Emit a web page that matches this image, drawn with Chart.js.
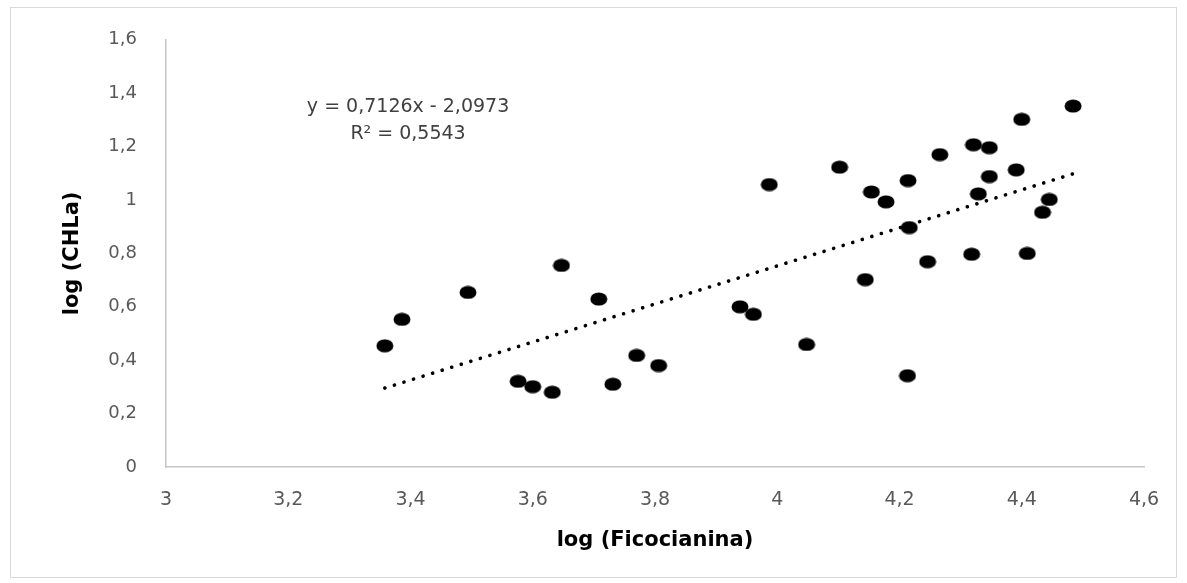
<!DOCTYPE html>
<html>
<head>
<meta charset="utf-8">
<script src="https://cdn.jsdelivr.net/npm/chart.js@4/dist/chart.umd.min.js"></script>
<style>
  html, body { margin: 0; padding: 0; background: #fff; }
  #wrap { position: absolute; left: 10px; top: 7px; width: 1167px; height: 571px; border: 1px solid #d9d9d9; box-sizing: border-box; }
  #box { position: absolute; left: 0; top: 0; width: 1187px; height: 583px; }
</style>
</head>
<body>
<div id="wrap"></div>
<div id="box"><canvas id="chart" width="1187" height="583"></canvas></div>
<script>
// log(Ficocianina) vs log(CHLa)
const xValues = [3.358, 3.386, 3.494, 3.647, 3.708, 3.576, 3.600, 3.632, 3.731, 3.770, 3.806, 3.939, 3.961,
  3.987, 4.102, 4.154, 4.178, 4.214, 4.216, 4.144, 4.048, 4.213, 4.246, 4.266, 4.321, 4.347, 4.347, 4.329,
  4.318, 4.391, 4.400, 4.484, 4.445, 4.434, 4.409];
const yValues = [0.454, 0.553, 0.654, 0.755, 0.629, 0.321, 0.301, 0.280, 0.310, 0.418, 0.380, 0.600, 0.572,
  1.058, 1.123, 1.030, 0.993, 1.073, 0.897, 0.702, 0.459, 0.342, 0.769, 1.170, 1.207, 1.196, 1.088, 1.023,
  0.797, 1.113, 1.302, 1.352, 1.002, 0.954, 0.800];
const slope = 0.7126;
const intercept = -2.0973;
const equationLines = ['y = 0,7126x - 2,0973', 'R\u00b2 = 0,5543'];
const xTitle = 'log (Ficocianina)';
const yTitle = 'log (CHLa)';

const points = xValues.map((x, i) => ({ x: x, y: yValues[i] }));
const xMin = Math.min(...xValues);
const xMax = Math.max(...xValues);
const trend = [xMin, xMax].map(x => ({ x: x, y: slope * x + intercept }));

// elliptical marker like the original
const dot = document.createElement('canvas');
dot.width = 18; dot.height = 14;
const dctx = dot.getContext('2d');
dctx.fillStyle = '#000';
dctx.beginPath();
dctx.ellipse(9, 7, 8.5, 6.6, 0, 0, Math.PI * 2);
dctx.fill();

const fmt = v => String(Math.round(v * 10) / 10).replace('.', ',');
const FONT = '"DejaVu Sans", sans-serif';

const equationPlugin = {
  id: 'equation',
  afterDatasetsDraw(chart) {
    const { ctx, scales } = chart;
    const cx = scales.x.getPixelForValue(3.396);
    ctx.save();
    ctx.fillStyle = '#404040';
    ctx.font = '19px ' + FONT;
    ctx.textAlign = 'center';
    ctx.textBaseline = 'middle';
    ctx.fillText(equationLines[0], cx, scales.y.getPixelForValue(1.347));
    ctx.fillText(equationLines[1], cx, scales.y.getPixelForValue(1.247));
    ctx.restore();
  }
};

new Chart(document.getElementById('chart'), {
  type: 'scatter',
  data: {
    datasets: [
      {
        data: points,
        pointStyle: dot,
        pointRadius: 8,
        backgroundColor: '#000',
        borderColor: '#000',
        order: 1
      },
      {
        type: 'line',
        data: trend,
        showLine: true,
        pointRadius: 0,
        borderColor: '#000',
        borderWidth: 3.6,
        borderCapStyle: 'round',
        borderDash: [0.1, 9.9],
        fill: false,
        order: 2
      }
    ]
  },
  options: {
    responsive: false,
    animation: false,
    layout: { padding: { left: 56, right: 43, top: 28, bottom: 30 } },
    plugins: { legend: { display: false }, tooltip: { enabled: false } },
    scales: {
      x: {
        type: 'linear',
        min: 3, max: 4.6,
        afterFit: s => { s.height = 86; },
        grid: { display: false, drawTicks: false },
        border: { display: true, color: '#c6c6c6', width: 1.5 },
        ticks: { stepSize: 0.2, color: '#595959', padding: 22, font: { family: FONT, size: 19 }, callback: v => fmt(v) },
        title: { display: true, text: xTitle, color: '#000', padding: { top: 0, bottom: 0 }, font: { family: FONT, size: 21, weight: 'bold' } }
      },
      y: {
        type: 'linear',
        min: 0, max: 1.6,
        afterFit: s => { s.width = 110; },
        grid: { display: false, drawTicks: false },
        border: { display: true, color: '#c6c6c6', width: 1.5 },
        ticks: { stepSize: 0.2, color: '#595959', padding: 29, font: { family: FONT, size: 18 }, callback: v => fmt(v) },
        title: { display: true, text: yTitle, color: '#000', padding: { top: 4, bottom: 0 }, font: { family: FONT, size: 21, weight: 'bold' } }
      }
    }
  },
  plugins: [equationPlugin]
});
</script>
</body>
</html>
